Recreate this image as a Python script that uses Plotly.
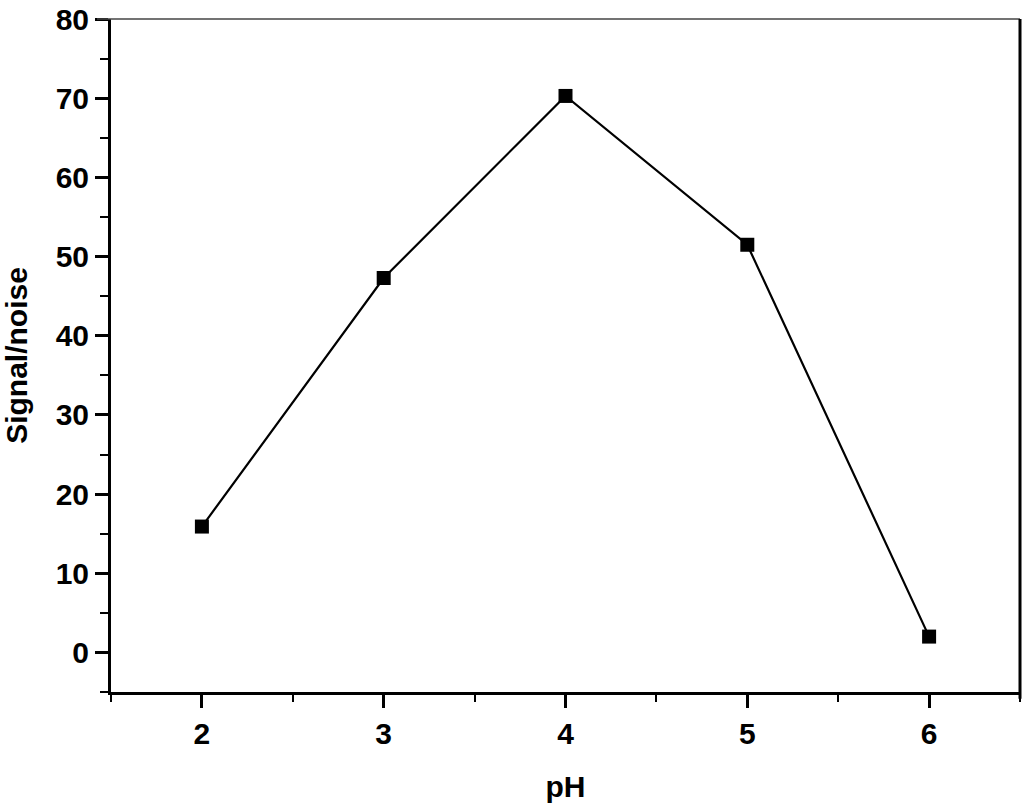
import plotly.graph_objects as go

ph = [2, 3, 4, 5, 6]
signal_noise = [15.9, 47.3, 70.3, 51.5, 2.0]
x_ticks = [2, 3, 4, 5, 6]
y_ticks = [0, 10, 20, 30, 40, 50, 60, 70, 80]

FONT = dict(family="Liberation Sans, Arial, sans-serif", size=30, color="black", weight="bold")

fig = go.Figure()
fig.add_trace(go.Scatter(
    x=ph, y=signal_noise, mode="lines+markers",
    line=dict(color="black", width=2.2),
    marker=dict(symbol="square", size=14, color="black"),
    showlegend=False, cliponaxis=False,
))

fig.update_layout(
    width=1024, height=809,
    margin=dict(l=111, r=4, t=19, b=117),
    plot_bgcolor="white", paper_bgcolor="white",
    font=FONT,
)
fig.update_xaxes(
    range=[1.5, 6.5], tickvals=x_ticks, ticks="outside", ticklen=13, tickwidth=3,
    tickcolor="black", showline=True, linewidth=3, linecolor="black",
    showgrid=False, zeroline=False, tickfont=FONT, automargin=False,
    ticklabeloverflow="allow",
    minor=dict(dtick=0.5, tick0=1.5, ticks="outside", ticklen=7, tickwidth=2, tickcolor="black", showgrid=False),
    title=dict(text="pH", font=FONT, standoff=27),
)
fig.update_yaxes(
    range=[-5, 80.02], tickvals=y_ticks, ticks="outside", ticklen=13, tickwidth=3,
    tickcolor="black", showline=True, linewidth=3, linecolor="black",
    showgrid=False, zeroline=False, tickfont=FONT, automargin=False,
    ticklabeloverflow="allow",
    minor=dict(dtick=5, tick0=-5, ticks="outside", ticklen=8, tickwidth=2, tickcolor="black", showgrid=False),
    title=dict(text="Signal/noise", font=FONT, standoff=24),
)
# frame: thin top line, thick right line
fig.add_shape(type="line", xref="paper", yref="paper", x0=-0.0154, x1=1, y0=1, y1=1,
              line=dict(color="#444", width=1.5))
fig.add_shape(type="line", xref="paper", yref="paper", x0=1, x1=1, y0=-0.01, y1=1,
              line=dict(color="black", width=3))

fig.write_html("out.html", config={"displayModeBar": False},
               post_script="document.body.style.margin='0';document.body.style.padding='0';")
